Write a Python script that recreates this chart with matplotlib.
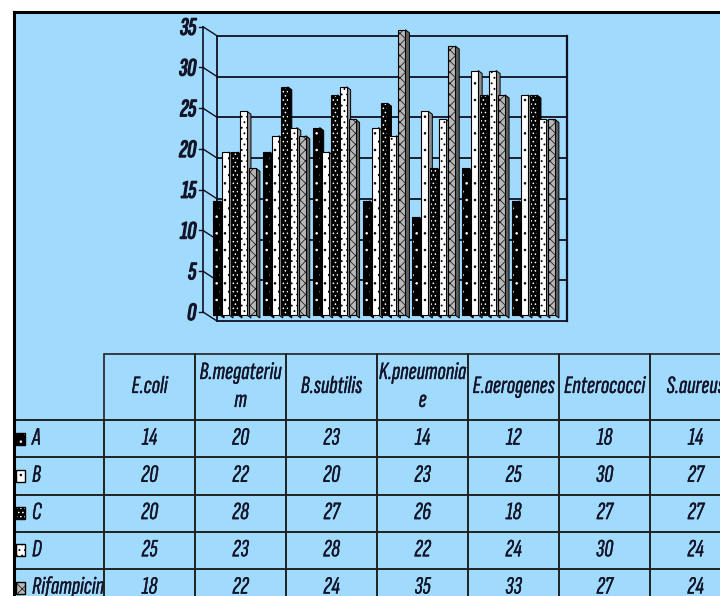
import matplotlib
matplotlib.use('Agg')
import matplotlib.pyplot as plt
import matplotlib.patheffects as pe
from matplotlib.patches import Rectangle, Polygon

# ========== 数据 ==========
header_labels = ['E.coli', 'B.megateriu\nm', 'B.subtilis', 'K.pneumonia\ne',
                 'E.aerogenes', 'Enterococci', 'S.aureus']
series_names = ['A', 'B', 'C', 'D', 'Rifampicin']
vals_a = [14, 20, 23, 14, 12, 18, 14]
vals_b = [20, 22, 20, 23, 25, 30, 27]
vals_c = [20, 28, 27, 26, 18, 27, 27]
vals_d = [25, 23, 28, 22, 24, 30, 24]
vals_rif = [18, 22, 24, 35, 33, 27, 24]
series_vals = [vals_a, vals_b, vals_c, vals_d, vals_rif]
y_ticks = [0, 5, 10, 15, 20, 25, 30, 35]

# ========== 样式 ==========
BG = '#A0DBFE'
LINE = '#101020'
TXT = '#141428'
FONT = ['Sofia Sans Extra Condensed', 'Sofia Sans Condensed', 'DejaVu Sans']
plt.rcParams['hatch.linewidth'] = 0.6
# (face, hatch, hatch colour, side colour)
styles = [
    ('black', '..', 'white', 'black'),
    ('white', '..', 'black', '#8c8c8c'),
    ('black', '....', 'white', 'black'),
    ('white', '...', 'black', '#8c8c8c'),
    ('#b8b8b8', 'xxx', '#202020', '#606060'),
]

W, H = 720, 596
fig = plt.figure(figsize=(7.2, 5.96), dpi=100)
fig.patch.set_facecolor('white')

# 背景 (像素坐标)
ax_bg = fig.add_axes([0, 0, 1, 1])
ax_bg.set_xlim(0, W)
ax_bg.set_ylim(H, 0)
ax_bg.axis('off')
ax_bg.add_patch(Rectangle((14, 12), W - 14, H - 12, facecolor=BG, edgecolor='none', zorder=0))

# ========== 柱状图 ==========
px_left, px_right, px_top, px_bot = 195, 575, 20, 330
GX, GY = 49.83, 8.15      # px per group / px per unit
X0, Y0 = 235.5, 315       # px of group 0 centre / baseline
ax = fig.add_axes([px_left / W, 1 - px_bot / H, (px_right - px_left) / W, (px_bot - px_top) / H])
ax.patch.set_alpha(0)
ax.axis('off')
ax.set_xlim((px_left - X0) / GX, (px_right - X0) / GX)
ax.set_ylim((Y0 - px_bot) / GY, (Y0 - px_top) / GY)

n_groups = len(vals_a)
fx, fy = -0.652, 0.37          # front axis
bl, br, by = -0.371, n_groups - 0.347, -0.74   # back wall
ymax = y_ticks[-1]

for v in y_ticks:
    ax.plot([bl, br], [v + by, v + by], color=LINE, lw=1.3, zorder=2)
    ax.plot([fx, bl], [v + fy, v + by], color=LINE, lw=1.0, zorder=2)
    ax.plot([fx - 0.08, fx], [v + fy, v + fy], color=LINE, lw=1.0, zorder=2)
    ax.text(fx - 0.14, v + fy - 0.25, str(v), ha='right', va='center', fontsize=18,
            fontstyle='italic', family=FONT, color=TXT, clip_on=False,
            path_effects=[pe.withStroke(linewidth=1.0, foreground=TXT)])
ax.plot([fx, fx], [fy, ymax + fy], color=LINE, lw=1.2, zorder=2)
ax.plot([bl, bl], [by, ymax + by], color=LINE, lw=1.3, zorder=2)
ax.plot([br, br], [by, ymax + by], color=LINE, lw=1.6, zorder=2)

bar_pitch, bar_w = 0.18, 0.14
side_dx, side_dy = 0.08, -0.37
for i in range(n_groups):
    for j, vals in enumerate(series_vals):
        face, hatch, hcol, side = styles[j]
        x = i + (j - 2.5) * bar_pitch
        h = vals[i]
        z = 10 + 2 * j
        pts = [(x + bar_w, 0), (x + bar_w, h), (x + bar_w + side_dx, h + side_dy),
               (x + bar_w + side_dx, side_dy)]
        ax.add_patch(Polygon(pts, closed=True, facecolor=side, edgecolor='black', lw=0.7, zorder=z))
        ax.add_patch(Rectangle((x, 0), bar_w, h, facecolor=face, edgecolor=hcol, hatch=hatch,
                               lw=0, zorder=z + 1))
        ax.add_patch(Rectangle((x, 0), bar_w, h, fill=False, edgecolor='black', lw=0.8, zorder=z + 1))

# ========== 数据表 ==========
tab_left, tab_top = 14, 354
col0_w, col_w = 90, 91
head_h, row_h = 66, 37.25
tab_w = col0_w + col_w * n_groups
tab_h = head_h + row_h * len(series_names)

cell_rows = [[''] + header_labels] + \
            [[name] + [str(v) for v in vals] for name, vals in zip(series_names, series_vals)]
tbl = ax_bg.table(cellText=cell_rows, cellLoc='center',
                  bbox=[tab_left / W, 1 - (tab_top + tab_h) / H, tab_w / W, tab_h / H])
tbl.auto_set_font_size(False)
for (r, c), cell in tbl.get_celld().items():
    cell.set_height(head_h if r == 0 else row_h)
    cell.set_width(col0_w if c == 0 else col_w)
    cell.set_facecolor('none')
    cell.set_edgecolor('#202020')
    cell.set_linewidth(1.2)
    t = cell.get_text()
    t.set_fontsize(18)
    t.set_fontstyle('italic')
    t.set_family(FONT)
    t.set_color(TXT)
    t.set_linespacing(1.35)
    t.set_path_effects([pe.withStroke(linewidth=0.2, foreground=TXT)])
    if c == 0:
        t.set_horizontalalignment('left')
        cell.PAD = 0.2
    if r == 0 and c == 0:
        cell.visible_edges = 'B'

# 图例方块
for k in range(len(series_names)):
    face, hatch, hcol, side = styles[k]
    yc = tab_top + head_h + row_h * (k + 0.5)
    ax_bg.add_patch(Rectangle((16, yc - 6), 9, 12, facecolor=face, edgecolor=hcol,
                              hatch=hatch, lw=0, zorder=5))
    ax_bg.add_patch(Rectangle((16, yc - 6), 9, 12, fill=False, edgecolor='black', lw=1.0, zorder=5))

# 边框
ax_bg.plot([14, W], [12, 12], color='black', lw=2.2, zorder=20)
ax_bg.plot([14, 14], [12, H], color='black', lw=2.2, zorder=20)

fig.savefig('out.png', dpi=100, facecolor=fig.get_facecolor())
